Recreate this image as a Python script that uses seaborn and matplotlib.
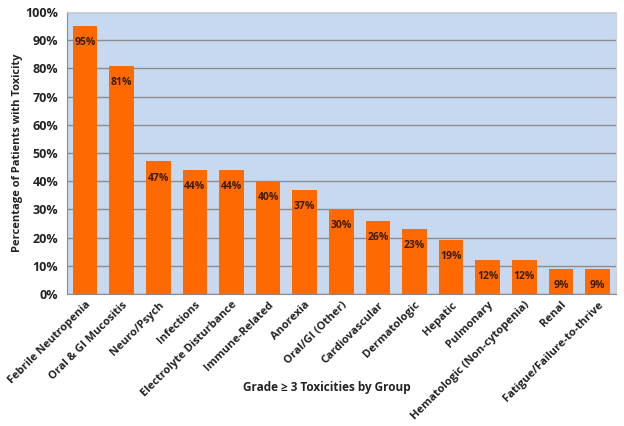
import pandas as pd
import matplotlib.pyplot as plt
import seaborn as sns

# Data
groups = ["Febrile Neutropenia", "Oral & GI Mucositis", "Neuro/Psych", "Infections",
          "Electrolyte Disturbance", "Immune-Related", "Anorexia", "Oral/GI (Other)",
          "Cardiovascular", "Dermatologic", "Hepatic", "Pulmonary",
          "Hematologic (Non-cytopenia)", "Renal", "Fatigue/Failure-to-thrive"]
percent = [95, 81, 47, 44, 44, 40, 37, 30, 26, 23, 19, 12, 12, 9, 9]
y_ticks = [0, 10, 20, 30, 40, 50, 60, 70, 80, 90, 100]

df = pd.DataFrame({"group": groups, "percent": percent})

sns.set_style("white")
plt.rcParams['font.family'] = ['Open Sans', 'DejaVu Sans']

fig, ax = plt.subplots(figsize=(6.24, 4.26), dpi=100)
fig.subplots_adjust(left=0.107, right=0.987, top=0.972, bottom=0.31)

sns.barplot(data=df, x="group", y="percent", color="#ff6a00", saturation=1,
            width=0.67, linewidth=0, ax=ax, zorder=3)

ax.set_facecolor("#c6d9f1")
ax.set_ylim(0, 100)
ax.set_xlim(-0.5, len(groups) - 0.5)
ax.set_yticks(y_ticks)
ax.set_yticklabels([f"{t}%" for t in y_ticks], fontsize=9, fontweight="bold", color="#222222")
ax.yaxis.grid(True, color="#8c8c8c", linewidth=1.0, zorder=0)
ax.set_axisbelow(True)

ax.set_xticks(range(len(groups)))
ax.set_xticklabels(groups, rotation=45, ha="right", rotation_mode="anchor",
                   fontsize=8, fontweight="bold", color="#222222")
ax.tick_params(axis="x", length=0, pad=4)
ax.tick_params(axis="y", length=0, pad=6)

for s in ["top", "right"]:
    ax.spines[s].set_color("#d0d0d0")
for s in ["left", "bottom"]:
    ax.spines[s].set_color("#8c8c8c")

# value labels inside the top of each bar
for i, v in enumerate(percent):
    ax.annotate(f"{v}%", (i, v), xytext=(0, -8), textcoords="offset points",
                ha="center", va="top", fontsize=7.5, fontweight="bold", color="#3a1c00")

ax.set_xlabel("")
ax.set_ylabel("Percentage of Patients with Toxicity", fontsize=8, fontweight="bold",
              color="#222222", labelpad=2)
fig.text(0.523, 0.09, "Grade \u2265 3 Toxicities by Group", ha="center", va="center",
         fontsize=8.5, fontweight="bold", color="#222222")

plt.savefig("out.png", dpi=100)
plt.close()
